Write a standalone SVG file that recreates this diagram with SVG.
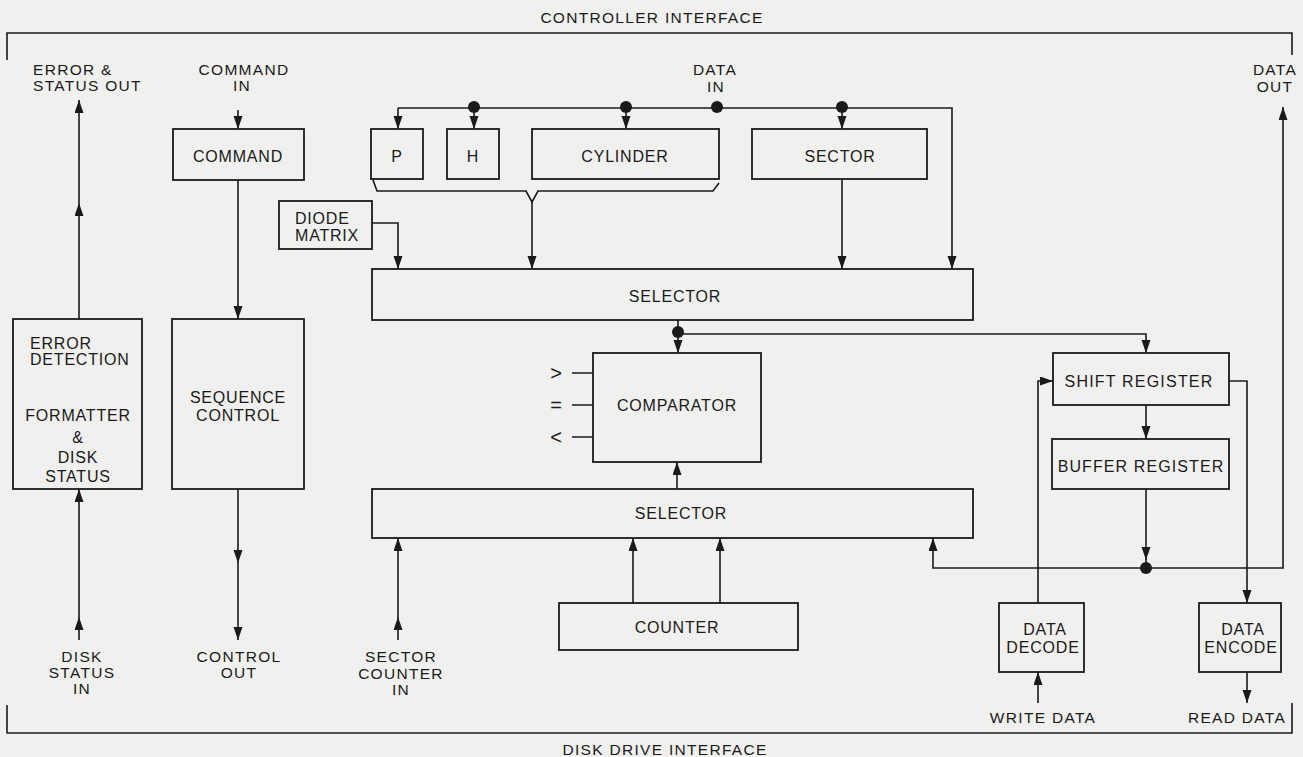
<svg xmlns="http://www.w3.org/2000/svg" width="1303" height="757" viewBox="0 0 1303 757">
<defs>
<marker id="ah" markerUnits="userSpaceOnUse" markerWidth="15" markerHeight="10" refX="13" refY="4.5" orient="auto">
<path d="M0,0 L13,4.5 L0,9 Z" fill="#1a1a1a"/>
</marker>
<style>
.bx{fill:none;stroke:#1a1a1a;stroke-width:1.8}
.ln{fill:none;stroke:#1a1a1a;stroke-width:1.6}
.ar{fill:none;stroke:#1a1a1a;stroke-width:1.6;marker-end:url(#ah)}
.am{fill:none;stroke:#1a1a1a;stroke-width:1.6;marker-end:url(#ah);marker-mid:url(#ah)}
.dot{fill:#1a1a1a}
text{font-family:"Liberation Sans",Arial,sans-serif;fill:#1a1a1a}
.t{font-size:16px;letter-spacing:0.8px;text-anchor:middle}
.io{font-size:15.5px;letter-spacing:1.3px;text-anchor:middle}
.sym{font-size:20px;text-anchor:middle}
</style>
</defs>
<rect width="1303" height="757" fill="#f0f0ee"/>

<g id="frame">
<path class="ln" d="M7,60 L7,33 L1292,33 L1292,55"/>
<path class="ln" d="M7,705 L7,733 L1292,733 L1292,703"/>
<text class="io" x="652" y="23">CONTROLLER INTERFACE</text>
<text class="io" x="665" y="755">DISK DRIVE INTERFACE</text>
</g>

<g id="labels">
<text class="io" x="33" y="75" style="text-anchor:start">ERROR &amp;</text>
<text class="io" x="33" y="91" style="text-anchor:start">STATUS OUT</text>
<text class="io" x="244" y="75">COMMAND</text>
<text class="io" x="242" y="91">IN</text>
<text class="io" x="715" y="75">DATA</text>
<text class="io" x="716" y="92">IN</text>
<text class="io" x="1275" y="75">DATA</text>
<text class="io" x="1275" y="92">OUT</text>
<text class="io" x="82" y="662">DISK</text>
<text class="io" x="82" y="678">STATUS</text>
<text class="io" x="82" y="694">IN</text>
<text class="io" x="239" y="662">CONTROL</text>
<text class="io" x="239" y="678">OUT</text>
<text class="io" x="401" y="662">SECTOR</text>
<text class="io" x="401" y="679">COUNTER</text>
<text class="io" x="401" y="695">IN</text>
<text class="io" x="1043" y="723">WRITE DATA</text>
<text class="io" x="1237" y="723">READ DATA</text>
<text class="sym" x="556" y="380">&gt;</text>
<text class="sym" x="556" y="412">=</text>
<text class="sym" x="556" y="444">&lt;</text>
</g>

<g id="connectors">
<path class="ar" d="M238,110 L238,129"/>
<path class="ar" d="M238,180 L238,319"/>
<path class="am" d="M79,319 L79,203 L79,100"/>
<path class="am" d="M79,640 L79,617 L79,489"/>
<path class="am" d="M238,489 L238,563 L238,640"/>
<path class="am" d="M398,640 L398,617 L398,538"/>
<path class="ar" d="M398,108 L398,129"/>
<path class="ar" d="M398,108 L952,108 L952,269"/>
<path class="ar" d="M474,108 L474,129"/>
<path class="ar" d="M626,108 L626,129"/>
<path class="ar" d="M842,108 L842,129"/>
<path class="ar" d="M372,223 L398,223 L398,269"/>
<path class="ln" d="M373,180 L377,191 L526,191 L532,202 L538,191 L713,191 L719,183"/>
<path class="ar" d="M532,202 L532,269"/>
<path class="ar" d="M842,179 L842,269"/>
<path class="ar" d="M678,320 L678,353"/>
<path class="ar" d="M678,334 L1146,334 L1146,353"/>
<path class="ln" d="M572,373 L593,373 M572,405 L593,405 M572,437 L593,437"/>
<path class="ar" d="M677,489 L677,462"/>
<path class="ar" d="M633,603 L633,538"/>
<path class="ar" d="M720,603 L720,538"/>
<path class="ar" d="M1146,405 L1146,439"/>
<path class="ar" d="M1146,489 L1146,560"/>
<path class="ln" d="M1146,559 L1146,568"/>
<path class="ar" d="M1146,568 L933,568 L933,538"/>
<path class="ar" d="M1146,568 L1283,568 L1283,107"/>
<path class="ar" d="M1038,603 L1038,381 L1053,381"/>
<path class="ar" d="M1038,703 L1038,672"/>
<path class="ar" d="M1229,381 L1247,381 L1247,603"/>
<path class="ar" d="M1247,672 L1247,703"/>
<circle class="dot" cx="474" cy="107" r="6"/>
<circle class="dot" cx="626" cy="107" r="6"/>
<circle class="dot" cx="717" cy="107" r="6"/>
<circle class="dot" cx="842" cy="107" r="6"/>
<circle class="dot" cx="678" cy="332" r="6"/>
<circle class="dot" cx="1146" cy="568" r="6"/>
</g>

<g id="command"><rect class="bx" x="173" y="129" width="131" height="51"/><text class="t" x="238" y="162">COMMAND</text></g>
<g id="p"><rect class="bx" x="371" y="129" width="52" height="50"/><text class="t" x="397" y="162">P</text></g>
<g id="h"><rect class="bx" x="447" y="129" width="52" height="50"/><text class="t" x="473" y="162">H</text></g>
<g id="cylinder"><rect class="bx" x="532" y="129" width="187" height="50"/><text class="t" x="625" y="162">CYLINDER</text></g>
<g id="sector"><rect class="bx" x="752" y="129" width="175" height="50"/><text class="t" x="840" y="162">SECTOR</text></g>
<g id="diode"><rect class="bx" x="279" y="201" width="93" height="48"/><text class="t" x="295" y="224" style="text-anchor:start">DIODE</text><text class="t" x="295" y="241" style="text-anchor:start">MATRIX</text></g>
<g id="selector1"><rect class="bx" x="372" y="269" width="601" height="51"/><text class="t" x="675" y="302">SELECTOR</text></g>
<g id="comparator"><rect class="bx" x="593" y="353" width="168" height="109"/><text class="t" x="677" y="411">COMPARATOR</text></g>
<g id="selector2"><rect class="bx" x="372" y="489" width="601" height="49"/><text class="t" x="681" y="519">SELECTOR</text></g>
<g id="counter"><rect class="bx" x="559" y="603" width="239" height="47"/><text class="t" x="677" y="633">COUNTER</text></g>
<g id="formatter"><rect class="bx" x="13" y="319" width="129" height="170"/>
<text class="t" x="30" y="349" style="text-anchor:start">ERROR</text>
<text class="t" x="30" y="365" style="text-anchor:start">DETECTION</text>
<text class="t" x="78" y="421">FORMATTER</text>
<text class="t" x="78" y="443">&amp;</text>
<text class="t" x="78" y="463">DISK</text>
<text class="t" x="78" y="482">STATUS</text></g>
<g id="sequence"><rect class="bx" x="172" y="319" width="132" height="170"/><text class="t" x="238" y="403">SEQUENCE</text><text class="t" x="238" y="421">CONTROL</text></g>
<g id="shift"><rect class="bx" x="1053" y="353" width="176" height="52"/><text class="t" x="1139" y="387" style="letter-spacing:1.2px">SHIFT REGISTER</text></g>
<g id="buffer"><rect class="bx" x="1052" y="439" width="177" height="50"/><text class="t" x="1141" y="472" style="letter-spacing:1.1px">BUFFER REGISTER</text></g>
<g id="decode"><rect class="bx" x="999" y="603" width="85" height="69"/><text class="t" x="1045" y="635">DATA</text><text class="t" x="1043" y="653">DECODE</text></g>
<g id="encode"><rect class="bx" x="1199" y="603" width="82" height="69"/><text class="t" x="1243" y="635">DATA</text><text class="t" x="1241" y="653">ENCODE</text></g>
</svg>
